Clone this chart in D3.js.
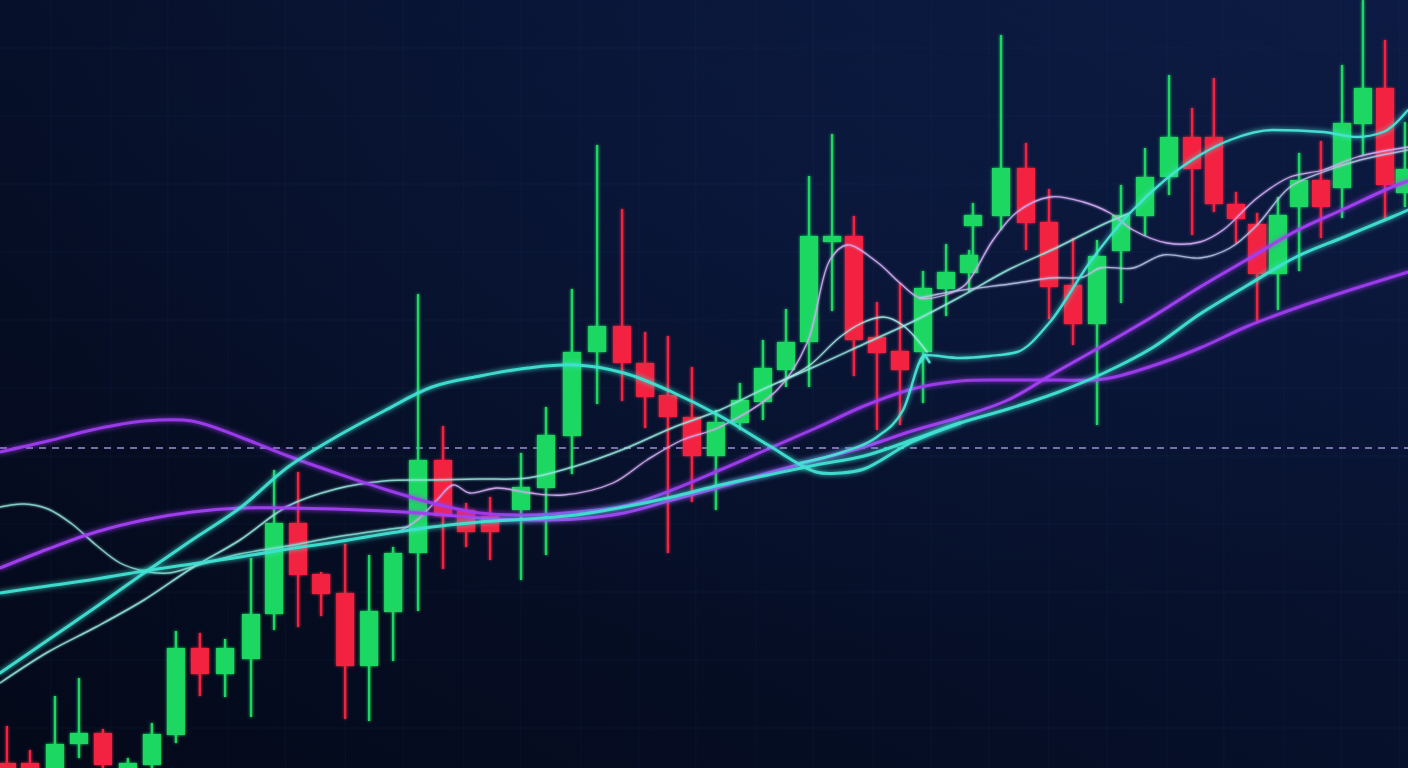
<!DOCTYPE html>
<html>
<head>
<meta charset="utf-8">
<script src="https://cdn.jsdelivr.net/npm/d3@7/dist/d3.min.js"></script>
<style>
html,body{margin:0;padding:0;background:#060d24;overflow:hidden;}
svg{display:block;}
</style>
</head>
<body>
<svg id="chart" width="1408" height="768"></svg>
<script>
// ---------- DATA ----------
// candle time positions (session index)
const T = [0.29,1.25,2.29,3.29,4.29,5.33,6.33,7.33,8.33,9.38,10.46,11.42,12.42,13.38,14.38,15.38,16.38,17.42,18.46,19.42,20.42,21.71,22.75,23.83,24.88,25.92,26.88,27.83,28.83,29.83,30.83,31.79,32.75,33.71,34.67,35.58,36.54,37.5,38.46,39.42,40.38,40.54,41.71,42.75,43.71,44.71,45.71,46.71,47.71,48.71,49.67,50.58,51.5,52.38,53.25,54.13,55.04,55.92,56.79,57.71,58.54];
const OPEN = [1.25,1.25,-5.5,6,8.75,-5.5,0.75,8.25,30,23.5,27.25,38.5,61.25,48.5,43.75,25.5,39,53.75,77,64.5,63,64.5,70,83,104,110.5,101.25,93.25,87.75,78,86.25,91.5,99.5,106.5,131.5,133,107.75,104.25,104,119.75,123.75,135.5,138,150,136.5,120.75,111,129.25,138,147.75,157.75,157.75,141,136,123.5,140.25,147,145,161,170,143.75];
const CLOSE = [-5.5,-5.5,6,8.75,0.75,1.25,8.5,30,23.5,30,38.5,61.25,48.25,43.5,25.5,39.25,53.75,77,63,59,59,70.25,83.25,104,110.5,101.25,92.75,87.75,78,86.5,92,100,106.5,133,133,107,103.75,99.5,120,124,128.25,138.25,150,136.25,120.25,111,128,138.25,147.75,157.75,149.75,141,137.25,123.5,138.25,147,140.25,161.25,170,145.75,149.75];
const HIGH = [10.5,4.5,18,22.5,9.75,2.5,11.25,34.25,33.75,32.25,52.5,74.5,74,49,56,53.25,55.25,118.5,85.5,66.25,67.75,78.75,90.25,119.75,155.75,139.75,109,108,100.25,89.5,96.25,107,114.75,148,158.5,138,116.5,121.25,124.25,131,129.5,141.25,183.25,156.25,144.75,132.5,132,145.75,155,173.25,165,172.5,144,138.75,142.75,153.75,156.75,175.75,192,182,161.5];
const LOW = [-8,-8,-8,2.5,-3,-8,-5.5,6.25,18,17.75,12.75,34.5,35.25,38,12.25,11.75,26.75,39.25,49.75,55.25,52,47,53.25,73.5,91,91.75,85,53.75,66.5,64.5,84.5,87,95.25,95.25,114.25,98,84.5,85.75,91.25,113,119,128.25,134.5,129.5,112.25,105.75,85.75,116.25,133,143.25,133.25,139,131.25,111.25,114.5,124.25,132.5,137.5,153.25,137,140.25];

// moving-average style lines: [time, price]
const MA_CYAN_WAVE = [[0,23.75],[2,32],[4,40.25],[6,48.75],[8,57],[10,65],[12,75.25],[14,82.75],[16,89.25],[18,95.25],[20,98],[22,100],[24,100.75],[26,98.75],[28,94],[30,88],[32,80.75],[34,74],[35,73.75],[36,74.75],[38,81.5],[40,86.25]];
const MA_CYAN_ARROW = [[33.33,76.25],[35.13,79],[36.54,82.75],[37.63,89.5],[38.54,103.25],[40,102.5],[41.25,103],[42.38,104],[43.75,111.5],[45.42,126.5],[47.08,138.75],[48.54,147],[50,153.25],[51.25,157],[53.04,159.5],[55.13,159],[56.54,157.75],[57.63,159],[58.67,164.5]];
const MA_CYAN_SLOW = [[0,43.75],[2,45.5],[4,47.25],[6,49.25],[8,51],[10,52.75],[12,54.75],[14,56.5],[16,58.5],[18,60.25],[20,61.5],[22,62.25],[24,63.25],[26,65.25],[28,67.75],[30,70.75],[32,73.25],[34,75.75],[36,78],[38,82],[40,86.25],[42,89.75],[44,93.75],[46,98.75],[48,105],[50,113.5],[52,120.75],[54,127.75],[56,132.75],[58,137.75],[58.67,139.5]];
const MA_PURPLE_A = [[0,79],[2,81.75],[4,84.75],[6,86.75],[8,86.75],[10,82.75],[12,78],[14,73.75],[16,69.75],[18,66.25],[20,63.75],[22,63.25],[24,64],[26,65.5],[28,69.5],[30,74.5],[32,79.75],[34,85],[36,90.5],[38,94.75],[40,96.75],[42,97],[44,97],[46,97.25],[48,100.5],[50,105],[52,110.5],[54,115],[56,119],[58,122.75],[58.67,124]];
const MA_PURPLE_B = [[0,50],[2,54.75],[4,59],[6,62],[8,64],[10,65],[12,65],[14,64.75],[16,64.25],[18,63.5],[20,62.5],[22,62],[24,62.25],[26,63.75],[28,67],[30,70.25],[32,73.75],[34,77],[36,80.25],[38,84.25],[40,87.75],[42,92],[44,99],[46,105.75],[48,112.75],[50,120.25],[52,127.25],[54,134.25],[56,139.75],[58,145.25],[58.67,146.75]];
const THIN_TEAL = [[0,21.25],[2,29],[4,35.25],[6,42],[8,50],[10,57],[12,65.5],[14,69.75],[16,71.75],[18,72],[20,72.25],[22,72.5],[24,75.5],[26,79.75],[28,85],[30,89.5],[32,95.25],[34,100.5],[36,106],[38,111.5],[40,117.75],[42,124.5],[44,130],[46,136],[47.08,138.75]];
const THIN_WAVE = [[0,65.25],[1,66],[2,64.75],[3,61],[4,55.75],[5,51.25],[6,49.25],[7,48.75],[8,50.25],[10,53.5],[12,55.5],[14,57.75],[16,59.5],[17,60.25]];
const THIN_LAVENDER = [[16.67,59.25],[17.38,62],[18.21,67],[18.88,70.75],[19.58,68.75],[20.71,70],[22.08,68.75],[23.46,68.25],[25.54,71.25],[26.96,77],[28.42,82],[30,85.25],[32.38,94.5],[33.63,106.25],[34.58,127],[35.29,130.75],[36.54,126.5],[37.5,121.25],[38.33,117.5],[39.38,118.25],[40.21,120.75],[41.38,132],[42.38,139],[43.75,142.75],[45.13,141.5],[46.25,138.75],[47.21,134.5],[48.63,131.25],[50,131.5],[50.96,134.5],[52.38,142.5],[53.75,147.75],[55.13,149.5],[56.54,152.75],[58.67,155.25]];
const THIN_GREY = [[38.33,117.5],[39.58,119],[42.38,121.25],[43.75,122.5],[45.13,122.75],[45.83,125],[47.21,125],[48.46,128.25],[50,127.5],[51.25,130],[52.38,135.75],[53.75,145.25],[55.13,149],[56.67,152],[58.67,154.5]];
const THIN_BUMP = [[32.5,96.5],[33.75,100.75],[35,107.75],[35.83,111],[36.79,112.75],[37.71,110.25],[38.63,104]];

const REF_LEVEL = 80; // dashed reference line
const GRID_T = [2.1,4.6,7,9.5,11.9,14.4,16.8,19.3,21.7,24.2,26.6,29,31.5,33.9,36.4,38.8,41.2,43.7,46.1,48.6,51,53.5,55.9,58.3];
const GRID_P = [10,27,44,61,78,95,112,129,146,163,180];

// ---------- DRAW ----------
const W = 1408, H = 768;
const svg = d3.select("#chart");
const x = d3.scaleLinear().domain([0, 58.667]).range([0, W]);
const y = d3.scaleLinear().domain([0, 192]).range([H, 0]);

const defs = svg.append("defs");
const bg = defs.append("linearGradient").attr("id","bg").attr("x1","0").attr("y1","1").attr("x2","1").attr("y2","0");
bg.append("stop").attr("offset","0%").attr("stop-color","#040919");
bg.append("stop").attr("offset","55%").attr("stop-color","#07112c");
bg.append("stop").attr("offset","100%").attr("stop-color","#0c1a42");
const rg = defs.append("radialGradient").attr("id","rg").attr("cx","0.6").attr("cy","0.25").attr("r","0.6");
rg.append("stop").attr("offset","0%").attr("stop-color","#102354").attr("stop-opacity",0.3);
rg.append("stop").attr("offset","100%").attr("stop-color","#102354").attr("stop-opacity",0);

function glow(id, sd){
  const f = defs.append("filter").attr("id",id).attr("filterUnits","userSpaceOnUse")
    .attr("x",0).attr("y",0).attr("width",W).attr("height",H);
  f.append("feGaussianBlur").attr("in","SourceGraphic").attr("stdDeviation",sd).attr("result","b");
  const m = f.append("feMerge");
  m.append("feMergeNode").attr("in","b");
  m.append("feMergeNode").attr("in","SourceGraphic");
}
glow("glowL", 2.5);
glow("glowS", 1.2);
glow("glowC", 1.8);

svg.append("rect").attr("width",W).attr("height",H).attr("fill","url(#bg)");
svg.append("rect").attr("width",W).attr("height",H).attr("fill","url(#rg)");

// faint grid
const grid = svg.append("g").attr("stroke","#3a5a9a").attr("stroke-opacity",0.09).attr("stroke-width",1);
grid.selectAll("line.v").data(GRID_T).join("line").attr("class","v")
  .attr("x1",d=>x(d)).attr("x2",d=>x(d)).attr("y1",0).attr("y2",H);
grid.selectAll("line.h").data(GRID_P).join("line").attr("class","h")
  .attr("x1",0).attr("x2",W).attr("y1",d=>y(d)).attr("y2",d=>y(d));

// dashed reference
svg.append("line").attr("x1",0).attr("x2",W).attr("y1",y(REF_LEVEL)).attr("y2",y(REF_LEVEL))
  .attr("stroke","#b7a6ee").attr("stroke-width",1.3).attr("stroke-dasharray","7,6").attr("opacity",0.85);

// candles
const GREEN = "#1fd862", RED = "#f3223f";
const candles = T.map((t,i)=>({t, o:OPEN[i], h:HIGH[i], l:LOW[i], c:CLOSE[i]}));
const cg = svg.append("g").attr("filter","url(#glowC)");
const cs = cg.selectAll("g.c").data(candles).join("g").attr("class","c");
cs.append("line")
  .attr("x1",d=>x(d.t)).attr("x2",d=>x(d.t))
  .attr("y1",d=>y(d.h)).attr("y2",d=>y(d.l))
  .attr("stroke",d=>d.c>=d.o?GREEN:RED).attr("stroke-width",2.2);
cs.append("rect")
  .attr("x",d=>x(d.t)-9).attr("width",18)
  .attr("y",d=>y(Math.max(d.o,d.c)))
  .attr("height",d=>Math.max(3, Math.abs(y(d.o)-y(d.c))))
  .attr("fill",d=>d.c>=d.o?GREEN:RED);

// lines
const smooth = d3.line().x(d=>x(d[0])).y(d=>y(d[1])).curve(d3.curveCatmullRom.alpha(0.5));
const mono = d3.line().x(d=>x(d[0])).y(d=>y(d[1])).curve(d3.curveMonotoneX);
function draw(data, gen, color, width, opacity, filt){
  svg.append("path").datum(data).attr("d",gen).attr("fill","none")
    .attr("stroke",color).attr("stroke-width",width).attr("stroke-opacity",opacity)
    .attr("stroke-linecap","round").attr("filter",filt);
}
draw(THIN_WAVE, smooth, "#8fdcd4", 1.4, 0.85, "url(#glowS)");
draw(THIN_TEAL, smooth, "#93e4da", 1.5, 0.85, "url(#glowS)");
draw(THIN_LAVENDER, smooth, "#d2aaf2", 1.3, 0.9, "url(#glowS)");
draw(THIN_GREY, smooth, "#b9c2e6", 1.3, 0.85, "url(#glowS)");
draw(THIN_BUMP, mono, "#a6ece4", 1.3, 0.85, "url(#glowS)");
draw(MA_PURPLE_A, smooth, "#9e3cf0", 3, 0.95, "url(#glowL)");
draw(MA_PURPLE_B, smooth, "#a43ff5", 3, 0.95, "url(#glowL)");
draw(MA_CYAN_SLOW, smooth, "#3fe2d2", 3, 0.95, "url(#glowL)");
draw(MA_CYAN_WAVE, smooth, "#3fe2d2", 3, 0.95, "url(#glowL)");
draw(MA_CYAN_ARROW, mono, "#48e4d6", 2.4, 0.95, "url(#glowL)");

// arrow head at the turning point of the arrow line
const ap = MA_CYAN_ARROW[4];
const ax = x(ap[0]), ay = y(ap[1]);
svg.append("path").attr("d",`M${ax-5},${ay+8}L${ax},${ay}L${ax+5},${ay+8}`)
  .attr("fill","none").attr("stroke","#48e4d6").attr("stroke-width",2).attr("filter","url(#glowS)");
</script>
</body>
</html>
